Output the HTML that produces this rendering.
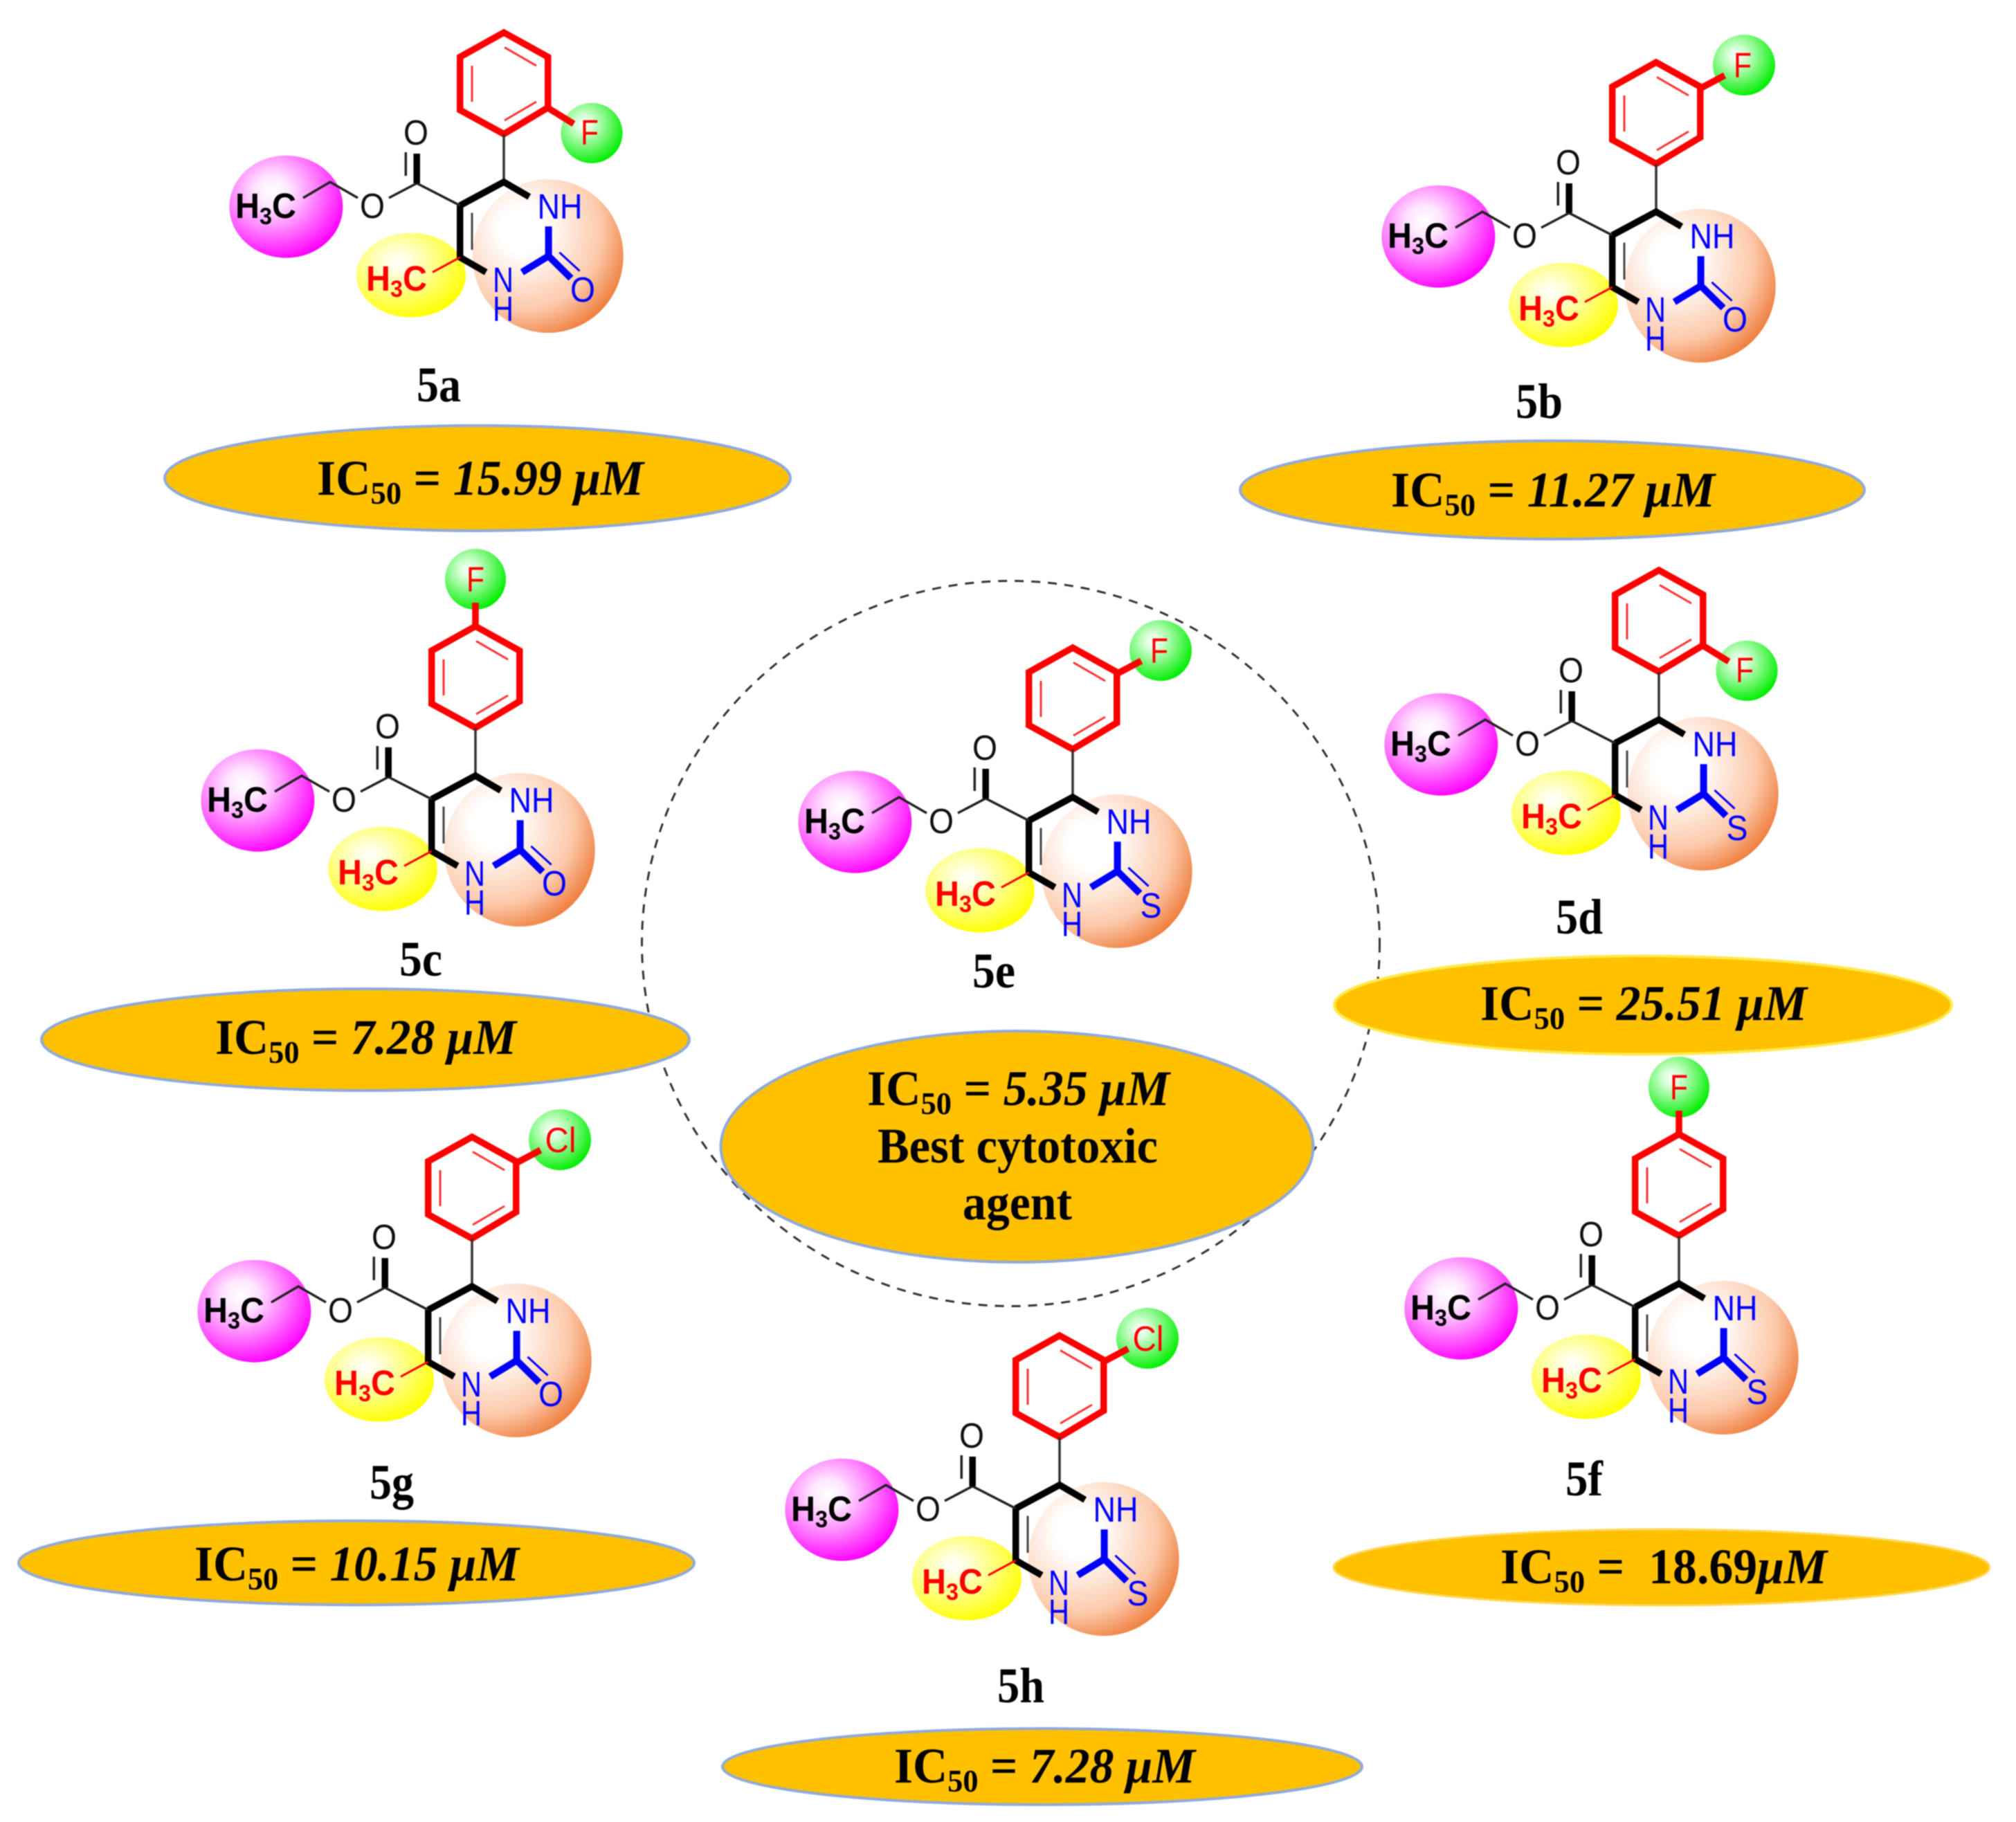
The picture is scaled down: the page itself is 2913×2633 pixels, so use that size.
<!DOCTYPE html>
<html><head><meta charset="utf-8"><style>
html,body{margin:0;padding:0;background:#fff}
svg{display:block;filter:blur(.9px)}
.s{font-family:"Liberation Sans",sans-serif;font-size:51px}
.b{font-weight:bold}
.lab{font-family:"Liberation Serif",serif;font-weight:bold;font-size:72px;text-anchor:middle;fill:#000}
.ic{font-family:"Liberation Serif",serif;font-weight:bold;font-size:72px;fill:#000}
.ic .i{font-style:italic}
</style></head><body>
<svg xmlns="http://www.w3.org/2000/svg" width="2913" height="2633" viewBox="0 0 2913 2633">
<defs>
<radialGradient id="gm" cx=".38" cy=".35" r=".68"><stop offset="0" stop-color="#fff"/><stop offset=".22" stop-color="#ffe6ff"/><stop offset="1" stop-color="#f0f"/></radialGradient>
<radialGradient id="gy" cx=".38" cy=".35" r=".68"><stop offset="0" stop-color="#fff"/><stop offset=".2" stop-color="#ffffd8"/><stop offset="1" stop-color="#ff0"/></radialGradient>
<radialGradient id="go" cx=".33" cy=".33" r=".75"><stop offset="0" stop-color="#fff"/><stop offset=".2" stop-color="#fff"/><stop offset=".7" stop-color="#fcc9aa"/><stop offset="1" stop-color="#ee7a38"/></radialGradient>
<radialGradient id="gg" cx=".38" cy=".35" r=".68"><stop offset="0" stop-color="#fff"/><stop offset=".2" stop-color="#d8ffd8"/><stop offset="1" stop-color="#0e0"/></radialGradient>
<g id="mol" fill="none">
<ellipse cx="-314.6" cy="35.7" rx="82" ry="74" fill="url(#gm)"/>
<ellipse cx="63.7" cy="107" rx="109" ry="111" fill="url(#go)"/>
<ellipse cx="-134" cy="134.6" rx="79" ry="61" fill="url(#gy)"/>
<polygon points="0,-69.3 63.75,-107.5 63.75,-180.7 0,-216 -63.3,-180.7 -63.3,-103.9" stroke="#f00" stroke-width="9.5"/>
<path d="M1,-89L47,-116M1,-194.6L47,-168M-46,-168L-46,-116" stroke="#f33" stroke-width="3"/>
<path d="M0,-69L0,0" stroke="#333" stroke-width="3.5"/>
<path d="M-63.3,33.9L0,0L36.7,21.4M-63.3,33.9L-63.3,108.9L-25.8,130.4" stroke="#000" stroke-width="9.5"/>
<path d="M-46,44.6L-46,98" stroke="#444" stroke-width="3"/>
<path d="M-103,130.4L-63.3,108.9" stroke="#f00" stroke-width="3"/>
<path d="M-63.3,33.9L-125.8,1.8L-166,23M-211,23L-251,0L-290,23M-141.7,-43L-141.7,-9" stroke="#222" stroke-width="3.5"/>
<path d="M-125.8,-41L-125.8,1.8" stroke="#000" stroke-width="9.5"/>
<path d="M64.6,64.3L64.6,107M26.3,130.4L64.6,107L97,139" stroke="#00f" stroke-width="10"/>
<path d="M80.4,101.8L109.6,128.6" stroke="#00f" stroke-width="3"/>
</g>
<g id="fo" fill="none"><ellipse cx="127" cy="-70.7" rx="44.6" ry="43.6" fill="url(#gg)"/><path d="M63.75,-107L101,-84" stroke="#f00" stroke-width="9.5"/></g>
<g id="fm" fill="none"><ellipse cx="127" cy="-212" rx="45" ry="44" fill="url(#gg)"/><path d="M63.4,-178L99,-197" stroke="#f00" stroke-width="9.5"/></g>
<g id="fp" fill="none"><ellipse cx="0" cy="-284" rx="44" ry="44" fill="url(#gg)"/><path d="M0,-216L0,-250" stroke="#f00" stroke-width="9.5"/></g>
</defs>
<rect width="2913" height="2633" fill="#fff"/>

<ellipse cx="1460.5" cy="1363.5" rx="533" ry="524" fill="none" stroke="#333" stroke-width="3" stroke-dasharray="13 11"/>

<!-- 5a -->
<g transform="translate(728,263)"><use href="#mol"/><use href="#fo"/>
<g class="s" text-anchor="middle" fill="#00f"><text x="81" y="53" textLength="65" lengthAdjust="spacingAndGlyphs">NH</text><text x="-1" y="159" textLength="30" lengthAdjust="spacingAndGlyphs">N</text><text x="-1" y="201" textLength="30" lengthAdjust="spacingAndGlyphs">H</text><text x="114" y="173" textLength="36" lengthAdjust="spacingAndGlyphs">O</text></g>
<g class="s" text-anchor="middle" fill="#111"><text x="-127" y="-54" textLength="36" lengthAdjust="spacingAndGlyphs">O</text><text x="-190" y="52" textLength="36" lengthAdjust="spacingAndGlyphs">O</text></g>
<text class="s b" x="-388" y="52" fill="#000" textLength="88" lengthAdjust="spacingAndGlyphs">H<tspan font-size="34" dy="9">3</tspan><tspan dy="-9">C</tspan></text>
<text class="s b" x="-199" y="157" fill="#f00" textLength="88" lengthAdjust="spacingAndGlyphs">H<tspan font-size="34" dy="9">3</tspan><tspan dy="-9">C</tspan></text>
<text class="s" x="124" y="-54" text-anchor="middle" fill="#f00" textLength="26" lengthAdjust="spacingAndGlyphs">F</text></g>

<!-- 5b -->
<g transform="translate(2393,306)"><use href="#mol"/><use href="#fm"/>
<g class="s" text-anchor="middle" fill="#00f"><text x="81" y="53" textLength="65" lengthAdjust="spacingAndGlyphs">NH</text><text x="-1" y="159" textLength="30" lengthAdjust="spacingAndGlyphs">N</text><text x="-1" y="201" textLength="30" lengthAdjust="spacingAndGlyphs">H</text><text x="114" y="173" textLength="36" lengthAdjust="spacingAndGlyphs">O</text></g>
<g class="s" text-anchor="middle" fill="#111"><text x="-127" y="-54" textLength="36" lengthAdjust="spacingAndGlyphs">O</text><text x="-190" y="52" textLength="36" lengthAdjust="spacingAndGlyphs">O</text></g>
<text class="s b" x="-388" y="52" fill="#000" textLength="88" lengthAdjust="spacingAndGlyphs">H<tspan font-size="34" dy="9">3</tspan><tspan dy="-9">C</tspan></text>
<text class="s b" x="-199" y="157" fill="#f00" textLength="88" lengthAdjust="spacingAndGlyphs">H<tspan font-size="34" dy="9">3</tspan><tspan dy="-9">C</tspan></text>
<text class="s" x="125" y="-194" text-anchor="middle" fill="#f00" textLength="26" lengthAdjust="spacingAndGlyphs">F</text></g>

<!-- 5c -->
<g transform="translate(687,1121)"><use href="#mol"/><use href="#fp"/>
<g class="s" text-anchor="middle" fill="#00f"><text x="81" y="53" textLength="65" lengthAdjust="spacingAndGlyphs">NH</text><text x="-1" y="159" textLength="30" lengthAdjust="spacingAndGlyphs">N</text><text x="-1" y="201" textLength="30" lengthAdjust="spacingAndGlyphs">H</text><text x="114" y="173" textLength="36" lengthAdjust="spacingAndGlyphs">O</text></g>
<g class="s" text-anchor="middle" fill="#111"><text x="-127" y="-54" textLength="36" lengthAdjust="spacingAndGlyphs">O</text><text x="-190" y="52" textLength="36" lengthAdjust="spacingAndGlyphs">O</text></g>
<text class="s b" x="-388" y="52" fill="#000" textLength="88" lengthAdjust="spacingAndGlyphs">H<tspan font-size="34" dy="9">3</tspan><tspan dy="-9">C</tspan></text>
<text class="s b" x="-199" y="157" fill="#f00" textLength="88" lengthAdjust="spacingAndGlyphs">H<tspan font-size="34" dy="9">3</tspan><tspan dy="-9">C</tspan></text>
<text class="s" x="0" y="-266" text-anchor="middle" fill="#f00" textLength="26" lengthAdjust="spacingAndGlyphs">F</text></g>

<!-- 5d -->
<g transform="translate(2397,1040)"><use href="#mol"/><use href="#fo"/>
<g class="s" text-anchor="middle" fill="#00f"><text x="81" y="53" textLength="65" lengthAdjust="spacingAndGlyphs">NH</text><text x="-1" y="159" textLength="30" lengthAdjust="spacingAndGlyphs">N</text><text x="-1" y="201" textLength="30" lengthAdjust="spacingAndGlyphs">H</text><text x="113" y="174" textLength="31" lengthAdjust="spacingAndGlyphs">S</text></g>
<g class="s" text-anchor="middle" fill="#111"><text x="-127" y="-54" textLength="36" lengthAdjust="spacingAndGlyphs">O</text><text x="-190" y="52" textLength="36" lengthAdjust="spacingAndGlyphs">O</text></g>
<text class="s b" x="-388" y="52" fill="#000" textLength="88" lengthAdjust="spacingAndGlyphs">H<tspan font-size="34" dy="9">3</tspan><tspan dy="-9">C</tspan></text>
<text class="s b" x="-199" y="157" fill="#f00" textLength="88" lengthAdjust="spacingAndGlyphs">H<tspan font-size="34" dy="9">3</tspan><tspan dy="-9">C</tspan></text>
<text class="s" x="124" y="-54" text-anchor="middle" fill="#f00" textLength="26" lengthAdjust="spacingAndGlyphs">F</text></g>

<!-- 5e -->
<g transform="translate(1550,1152)"><use href="#mol"/><use href="#fm"/>
<g class="s" text-anchor="middle" fill="#00f"><text x="81" y="53" textLength="65" lengthAdjust="spacingAndGlyphs">NH</text><text x="-1" y="159" textLength="30" lengthAdjust="spacingAndGlyphs">N</text><text x="-1" y="201" textLength="30" lengthAdjust="spacingAndGlyphs">H</text><text x="113" y="174" textLength="31" lengthAdjust="spacingAndGlyphs">S</text></g>
<g class="s" text-anchor="middle" fill="#111"><text x="-127" y="-54" textLength="36" lengthAdjust="spacingAndGlyphs">O</text><text x="-190" y="52" textLength="36" lengthAdjust="spacingAndGlyphs">O</text></g>
<text class="s b" x="-388" y="52" fill="#000" textLength="88" lengthAdjust="spacingAndGlyphs">H<tspan font-size="34" dy="9">3</tspan><tspan dy="-9">C</tspan></text>
<text class="s b" x="-199" y="157" fill="#f00" textLength="88" lengthAdjust="spacingAndGlyphs">H<tspan font-size="34" dy="9">3</tspan><tspan dy="-9">C</tspan></text>
<text class="s" x="125" y="-194" text-anchor="middle" fill="#f00" textLength="26" lengthAdjust="spacingAndGlyphs">F</text></g>

<!-- 5f -->
<g transform="translate(2426,1855)"><use href="#mol"/><use href="#fp"/>
<g class="s" text-anchor="middle" fill="#00f"><text x="81" y="53" textLength="65" lengthAdjust="spacingAndGlyphs">NH</text><text x="-1" y="159" textLength="30" lengthAdjust="spacingAndGlyphs">N</text><text x="-1" y="201" textLength="30" lengthAdjust="spacingAndGlyphs">H</text><text x="113" y="174" textLength="31" lengthAdjust="spacingAndGlyphs">S</text></g>
<g class="s" text-anchor="middle" fill="#111"><text x="-127" y="-54" textLength="36" lengthAdjust="spacingAndGlyphs">O</text><text x="-190" y="52" textLength="36" lengthAdjust="spacingAndGlyphs">O</text></g>
<text class="s b" x="-388" y="52" fill="#000" textLength="88" lengthAdjust="spacingAndGlyphs">H<tspan font-size="34" dy="9">3</tspan><tspan dy="-9">C</tspan></text>
<text class="s b" x="-199" y="157" fill="#f00" textLength="88" lengthAdjust="spacingAndGlyphs">H<tspan font-size="34" dy="9">3</tspan><tspan dy="-9">C</tspan></text>
<text class="s" x="0" y="-266" text-anchor="middle" fill="#f00" textLength="26" lengthAdjust="spacingAndGlyphs">F</text></g>

<!-- 5g -->
<g transform="translate(682,1859)"><use href="#mol"/><use href="#fm"/>
<g class="s" text-anchor="middle" fill="#00f"><text x="81" y="53" textLength="65" lengthAdjust="spacingAndGlyphs">NH</text><text x="-1" y="159" textLength="30" lengthAdjust="spacingAndGlyphs">N</text><text x="-1" y="201" textLength="30" lengthAdjust="spacingAndGlyphs">H</text><text x="114" y="173" textLength="36" lengthAdjust="spacingAndGlyphs">O</text></g>
<g class="s" text-anchor="middle" fill="#111"><text x="-127" y="-54" textLength="36" lengthAdjust="spacingAndGlyphs">O</text><text x="-190" y="52" textLength="36" lengthAdjust="spacingAndGlyphs">O</text></g>
<text class="s b" x="-388" y="52" fill="#000" textLength="88" lengthAdjust="spacingAndGlyphs">H<tspan font-size="34" dy="9">3</tspan><tspan dy="-9">C</tspan></text>
<text class="s b" x="-199" y="157" fill="#f00" textLength="88" lengthAdjust="spacingAndGlyphs">H<tspan font-size="34" dy="9">3</tspan><tspan dy="-9">C</tspan></text>
<text class="s" x="128" y="-194" text-anchor="middle" fill="#f00" textLength="45" lengthAdjust="spacingAndGlyphs">Cl</text></g>

<!-- 5h -->
<g transform="translate(1531,2146)"><use href="#mol"/><use href="#fm"/>
<g class="s" text-anchor="middle" fill="#00f"><text x="81" y="53" textLength="65" lengthAdjust="spacingAndGlyphs">NH</text><text x="-1" y="159" textLength="30" lengthAdjust="spacingAndGlyphs">N</text><text x="-1" y="201" textLength="30" lengthAdjust="spacingAndGlyphs">H</text><text x="113" y="174" textLength="31" lengthAdjust="spacingAndGlyphs">S</text></g>
<g class="s" text-anchor="middle" fill="#111"><text x="-127" y="-54" textLength="36" lengthAdjust="spacingAndGlyphs">O</text><text x="-190" y="52" textLength="36" lengthAdjust="spacingAndGlyphs">O</text></g>
<text class="s b" x="-388" y="52" fill="#000" textLength="88" lengthAdjust="spacingAndGlyphs">H<tspan font-size="34" dy="9">3</tspan><tspan dy="-9">C</tspan></text>
<text class="s b" x="-199" y="157" fill="#f00" textLength="88" lengthAdjust="spacingAndGlyphs">H<tspan font-size="34" dy="9">3</tspan><tspan dy="-9">C</tspan></text>
<text class="s" x="128" y="-194" text-anchor="middle" fill="#f00" textLength="45" lengthAdjust="spacingAndGlyphs">Cl</text></g>

<!-- labels -->
<text class="lab" x="634" y="580" textLength="64" lengthAdjust="spacingAndGlyphs">5a</text>
<text class="lab" x="2224" y="604" textLength="68" lengthAdjust="spacingAndGlyphs">5b</text>
<text class="lab" x="608" y="1410" textLength="62" lengthAdjust="spacingAndGlyphs">5c</text>
<text class="lab" x="2282" y="1349" textLength="68" lengthAdjust="spacingAndGlyphs">5d</text>
<text class="lab" x="1436" y="1427" textLength="62" lengthAdjust="spacingAndGlyphs">5e</text>
<text class="lab" x="2289" y="2161" textLength="54" lengthAdjust="spacingAndGlyphs">5f</text>
<text class="lab" x="566" y="2166" textLength="64" lengthAdjust="spacingAndGlyphs">5g</text>
<text class="lab" x="1475" y="2460" textLength="68" lengthAdjust="spacingAndGlyphs">5h</text>

<!-- ovals -->
<g fill="#ffc000" stroke="#8faadc" stroke-width="4">
<ellipse cx="690" cy="691" rx="452" ry="76"/>
<ellipse cx="2243" cy="708" rx="451" ry="71"/>
<ellipse cx="528" cy="1502.5" rx="468" ry="73.5"/>
<ellipse cx="2374" cy="1452.5" rx="446" ry="71" stroke="#ffe94a"/>
<ellipse cx="1469.5" cy="1657" rx="428" ry="167"/>
<ellipse cx="2401" cy="2265" rx="474" ry="55" stroke="#ffd85a" stroke-width="3"/>
<ellipse cx="515" cy="2258.5" rx="488" ry="60.7"/>
<ellipse cx="1506" cy="2553" rx="462" ry="55"/>
</g>

<text class="ic" x="458" y="715" textLength="472" lengthAdjust="spacingAndGlyphs">IC<tspan font-size="46" dy="13">50</tspan><tspan dy="-13"> = </tspan><tspan class="i">15.99 μM</tspan></text>
<text class="ic" x="2010" y="732" textLength="468" lengthAdjust="spacingAndGlyphs">IC<tspan font-size="46" dy="13">50</tspan><tspan dy="-13"> = </tspan><tspan class="i">11.27 μM</tspan></text>
<text class="ic" x="311" y="1523" textLength="435" lengthAdjust="spacingAndGlyphs">IC<tspan font-size="46" dy="13">50</tspan><tspan dy="-13"> = </tspan><tspan class="i">7.28 μM</tspan></text>
<text class="ic" x="2139" y="1474" textLength="472" lengthAdjust="spacingAndGlyphs">IC<tspan font-size="46" dy="13">50</tspan><tspan dy="-13"> = </tspan><tspan class="i">25.51 μM</tspan></text>
<text class="ic" x="1253" y="1597" textLength="437" lengthAdjust="spacingAndGlyphs">IC<tspan font-size="46" dy="13">50</tspan><tspan dy="-13"> = </tspan><tspan class="i">5.35 μM</tspan></text>
<text class="ic" x="1268" y="1680" textLength="405" lengthAdjust="spacingAndGlyphs">Best cytotoxic</text>
<text class="ic" x="1391" y="1762" textLength="158" lengthAdjust="spacingAndGlyphs">agent</text>
<text class="ic" x="2168" y="2288" textLength="472" lengthAdjust="spacingAndGlyphs">IC<tspan font-size="46" dy="13">50</tspan><tspan dy="-13" xml:space="preserve"> =  18.69</tspan><tspan class="i">μM</tspan></text>
<text class="ic" x="281" y="2284" textLength="469" lengthAdjust="spacingAndGlyphs">IC<tspan font-size="46" dy="13">50</tspan><tspan dy="-13"> = </tspan><tspan class="i">10.15 μM</tspan></text>
<text class="ic" x="1292" y="2576" textLength="435" lengthAdjust="spacingAndGlyphs">IC<tspan font-size="46" dy="13">50</tspan><tspan dy="-13"> = </tspan><tspan class="i">7.28 μM</tspan></text>
</svg>
</body></html>
